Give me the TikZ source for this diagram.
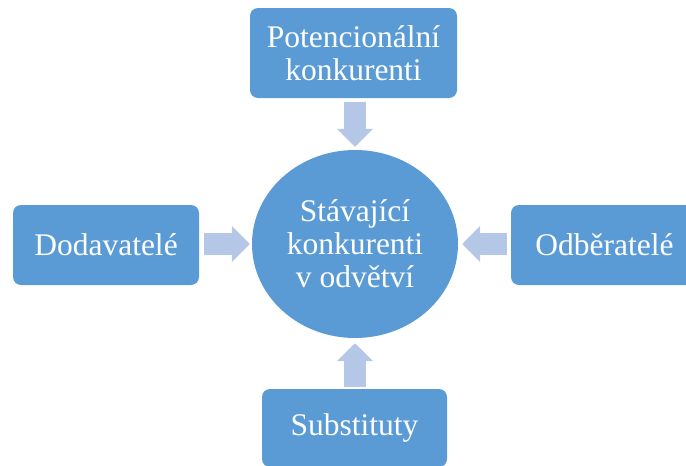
\documentclass[tikz,border=0pt]{standalone}
\usepackage{fontspec}
\setmainfont{Liberation Serif}
\usetikzlibrary{arrows.meta,shapes.geometric}
\definecolor{boxblue}{HTML}{5B9BD5}
\definecolor{arrowblue}{HTML}{B4C7E7}

\begin{document}
\begin{tikzpicture}[x=1pt, y=-1pt,
  box/.style={fill=boxblue, rounded corners=8pt, text=white, align=center, inner sep=0pt, font=\fontsize{31.5}{33}\selectfont},
  flow/.style={draw=arrowblue, line width=22pt, -{Triangle[length=18pt, width=35pt]}}]
\useasboundingbox (0,0) rectangle (686,466);
\clip (0,0) rectangle (686,466);
\node[box, ellipse, minimum width=206pt, minimum height=188pt] (cur) at (355,244) {Stávající\\konkurenti\\v odvětví};
\node[box, minimum width=207pt, minimum height=90pt] (pot) at (353.5,53) {Potencionální\\konkurenti};
\node[box, minimum width=186pt, minimum height=80pt] (dod) at (106,245) {Dodavatelé};
\node[box, minimum width=187pt, minimum height=80pt] (odb) at (604.5,245) {Odběratelé};
\node[box, minimum width=185pt, minimum height=78pt] (sub) at (354.5,428) {Substituty};
\draw[flow, shorten <=4pt, shorten >=3pt] (pot.south -| cur.north) -- (cur.north);
\draw[flow, shorten <=5pt, shorten >=2pt] (dod.east |- cur.west) -- (cur.west);
\draw[flow, shorten <=4pt, shorten >=4pt] (odb.west |- cur.east) -- (cur.east);
\draw[flow, shorten <=2pt, shorten >=5pt] (sub.north -| cur.south) -- (cur.south);
\end{tikzpicture}
\end{document}
